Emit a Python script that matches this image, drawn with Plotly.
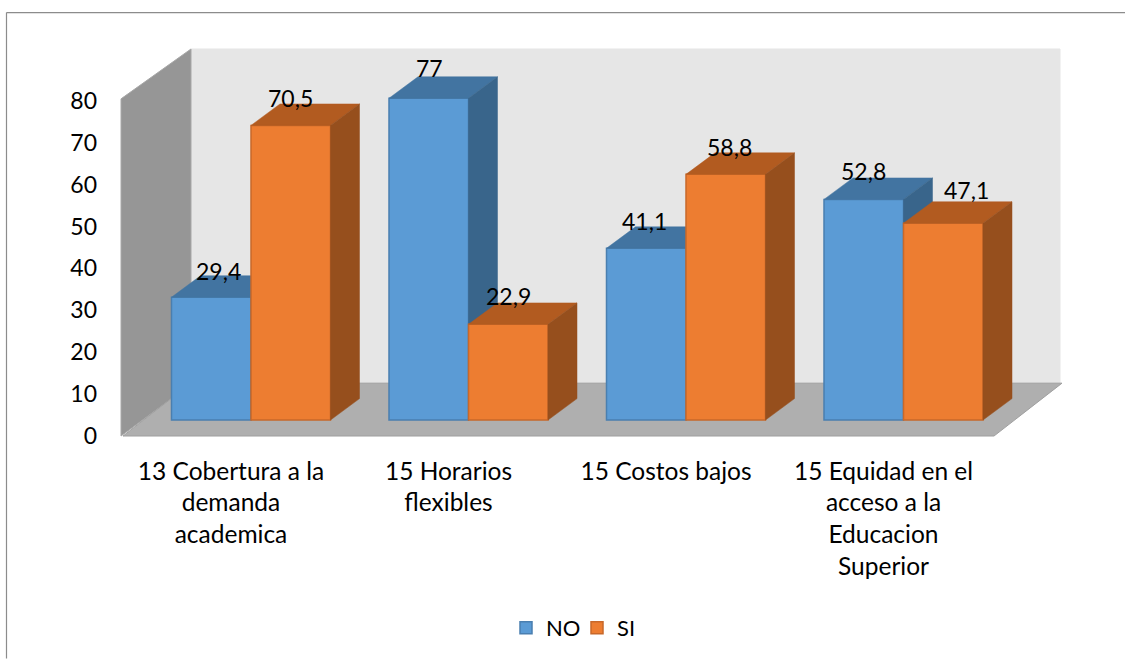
import plotly.graph_objects as go

categories = ["13 Cobertura a la<br>demanda<br>academica", "15 Horarios<br>flexibles",
              "15 Costos bajos", "15 Equidad en el<br>acceso a la<br>Educacion<br>Superior"]
no_values = [29.4, 77, 41.1, 52.8]
si_values = [70.5, 22.9, 58.8, 47.1]
y_ticks = [0, 10, 20, 30, 40, 50, 60, 70, 80]

W, H = 1125, 660
FONT = "Lato"
FS = 24.5
TXT = "#000000"

# plot frame in page pixels and the pixel scale of the axes
L, R, T, B = 101, 1075, 40, 450
X0, XS = 231.0, 217.5
Y0, YS = 434.5, 4.19
def xv(px): return (px - X0) / XS
def yv(py): return (Y0 - py) / YS
def xp(px): return (px - L) / (R - L)
def yp(py): return (B - py) / (B - T)

BASE = yv(421)
BAR_W = 79.5 / XS
GROUP = xv(251)
DX, DY = 29 / XS, 21.5 / YS


def faces(values, left):
    """Top and side faces of each column, from its value."""
    tx, ty, sx, sy = [], [], [], []
    for i, v in enumerate(values):
        a = i + GROUP + left
        b = a + BAR_W
        h = BASE + v
        tx += [a, a + DX, b + DX, b, a, None]
        ty += [h, h + DY, h + DY, h, h, None]
        sx += [b, b + DX, b + DX, b, b, None]
        sy += [BASE, BASE + DY, h + DY, h, BASE, None]
    return tx, ty, sx, sy


def add_series(fig, name, values, left, front, edge, top, side, xa, ya):
    tx, ty, sx, sy = faces(values, left)
    fig.add_bar(name=name, x=[i + GROUP for i in range(len(values))], y=values,
                base=[BASE] * len(values), width=BAR_W, offset=left,
                marker=dict(color=front, line=dict(color=edge, width=1.5)),
                xaxis=xa, yaxis=ya, hoverinfo="y")
    for fx, fy, col in ((tx, ty, top), (sx, sy, side)):
        fig.add_scatter(x=fx, y=fy, mode="lines", fill="toself", fillcolor=col,
                        line=dict(color=col, width=0.5), showlegend=False,
                        hoverinfo="skip", xaxis=xa, yaxis=ya)


fig = go.Figure()
add_series(fig, "NO", no_values, -BAR_W, "#5B9BD5", "#4A7FB0", "#4274A1", "#39658B", "x", "y")
add_series(fig, "SI", si_values, 0, "#ED7D31", "#C8682A", "#B25B20", "#964F1D", "x2", "y2")


def poly(points, fill, line=None):
    path = "M" + "L".join(f"{xv(a):.5f},{yv(b):.5f}" for a, b in points) + "Z"
    return dict(type="path", path=path, xref="x", yref="y", layer="below", fillcolor=fill,
                line=dict(color=line or fill, width=1))


shapes = [
    poly([(191, 49), (1060, 49), (1060, 385), (191, 385)], "#E6E6E6"),
    poly([(121, 99), (191, 49), (191, 385), (121, 437)], "#969696", "#A8A8A8"),
    poly([(123, 437), (994, 437), (1062, 384), (191, 384)], "#AFAFAF", "#A0A0A0"),
    dict(type="line", xref="paper", yref="paper", x0=xp(6.5), x1=xp(6.5), y0=yp(660), y1=yp(12.5),
         line=dict(color="#8C8C8C", width=1.2)),
    dict(type="line", xref="paper", yref="paper", x0=xp(6.5), x1=xp(1125), y0=yp(12.5), y1=yp(12.5),
         line=dict(color="#8C8C8C", width=1.2)),
]

# data labels: value, then a hand offset from the column's centre (as in the reference)
NO_NUDGE = [(7, 26), (1, 30), (-2, 27), (0, 28)]
SI_NUDGE = [(0, 27), (0, 28), (4, 27), (23, 33)]
annotations = []
for values, left, nudges in ((no_values, -BAR_W, NO_NUDGE), (si_values, 0, SI_NUDGE)):
    for i, v in enumerate(values):
        annotations.append(dict(
            x=i + GROUP + left + BAR_W / 2, y=BASE + v, xref="x", yref="y",
            text=f"{v:g}".replace(".", ","), showarrow=False, xanchor="center", yanchor="middle",
            xshift=nudges[i][0], yshift=nudges[i][1], font=dict(family=FONT, size=23, color=TXT)))

rx = [xv(L), xv(R)]
ry = [yv(B), yv(T)]
fig.update_layout(
    width=W, height=H, autosize=False,
    margin=dict(l=L, r=W - R, t=T, b=H - B, pad=0),
    paper_bgcolor="white", plot_bgcolor="rgba(0,0,0,0)",
    font=dict(family=FONT, size=FS, color=TXT),
    shapes=shapes, annotations=annotations,
    barmode="overlay", hovermode="closest",
    showlegend=True,
    legend=dict(orientation="h", x=xp(577), xanchor="center", y=yp(628), yanchor="middle",
                font=dict(family=FONT, size=22, color=TXT), traceorder="normal",
                entrywidth=26, entrywidthmode="pixels",
                bgcolor="rgba(0,0,0,0)"),
    xaxis=dict(range=rx, tickmode="array", tickvals=list(range(len(categories))), ticktext=categories,
               showgrid=False, zeroline=False, showline=False, ticks="", tickangle=0, ticklabelstandoff=5,
               tickfont=dict(family=FONT, size=FS, color=TXT), fixedrange=True),
    yaxis=dict(range=ry, tickmode="array", tickvals=y_ticks, showgrid=False, zeroline=False,
               showline=False, ticks="", ticklabelstandoff=3, ticklabelshift=2,
               tickfont=dict(family=FONT, size=23, color=TXT), fixedrange=True),
    xaxis2=dict(range=rx, overlaying="x", visible=False, fixedrange=True),
    yaxis2=dict(range=ry, overlaying="y", visible=False, fixedrange=True),
)

fig.write_html("out.html", config={"displayModeBar": False},
               post_script="document.body.style.margin='0';document.documentElement.style.overflow='hidden';")
